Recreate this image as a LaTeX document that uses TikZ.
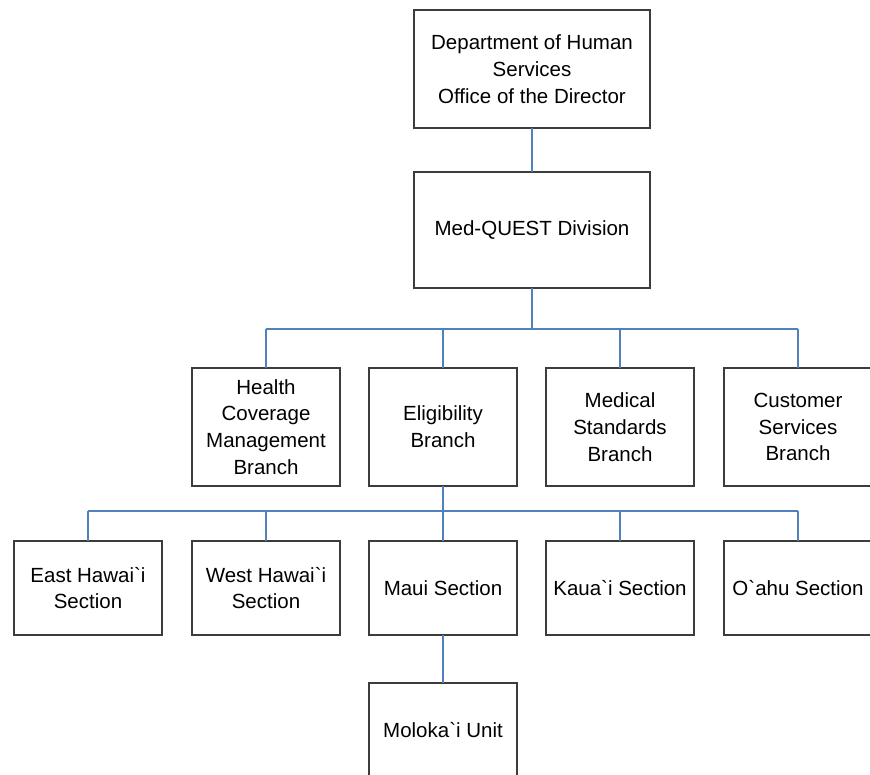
\documentclass[tikz,border=0pt]{standalone}
\usepackage{fontspec}
\setmainfont{Liberation Sans}[Ligatures=TeXOff]
\newcommand{\bqt}{\symbol{96}}
\definecolor{linkblue}{RGB}{79,129,189}
\definecolor{boxline}{RGB}{60,60,60}
\begin{document}
\begin{tikzpicture}[x=1pt,y=-1pt,
  box/.style={draw=boxline, line width=1.2pt, fill=white, align=center,
    minimum width=148pt, minimum height=118pt, inner sep=0pt, outer sep=0pt,
    font=\fontsize{20.5}{26.7}\selectfont},
  sect/.style={box, minimum height=94pt},
  conn/.style={draw=linkblue, line width=2pt}]
\useasboundingbox (0,0) rectangle (870,775);
\clip (0,0) rectangle (870,775);
% top levels
\node[box, minimum width=236pt] (dir) at (532,69) {Department of Human\\Services\\Office of the Director};
\node[box, minimum width=236pt, minimum height=116pt] (mqd) at (532,230) {Med-QUEST Division};
% branches
\node[box] (hcm)  at (266,427) {Health\\Coverage\\Management\\Branch};
\node[box] (elig) at (443,427) {Eligibility\\Branch};
\node[box] (med)  at (620,427) {Medical\\Standards\\Branch};
\node[box] (cust) at (798,427) {Customer\\Services\\Branch};
% sections
\node[sect] (east) at (88,588) {East Hawai\bqt i\\Section};
\node[sect] (west) at (266,588) {West Hawai\bqt i\\Section};
\node[sect] (maui) at (443,588) {Maui Section};
\node[sect] (kauai) at (620,588) {Kaua\bqt i Section};
\node[sect] (oahu) at (798,588) {O\bqt ahu Section};
% unit
\node[sect] (molo) at (443,730) {Moloka\bqt i Unit};
% buses
\coordinate (busA) at (0,329);
\coordinate (busB) at (0,511);
% connectors
\draw[conn] (dir.south) -- (mqd.north);
\draw[conn] (mqd.south) -- (mqd.south |- busA);
\draw[conn] (hcm.north |- busA) -- (cust.north |- busA);
\foreach \n in {hcm,elig,med,cust} \draw[conn] (\n.north) -- (\n.north |- busA);
\draw[conn] (elig.south) -- (elig.south |- busB);
\draw[conn] (east.north |- busB) -- (oahu.north |- busB);
\foreach \n in {east,west,maui,kauai,oahu} \draw[conn] (\n.north) -- (\n.north |- busB);
\draw[conn] (maui.south) -- (molo.north);
\end{tikzpicture}
\end{document}
